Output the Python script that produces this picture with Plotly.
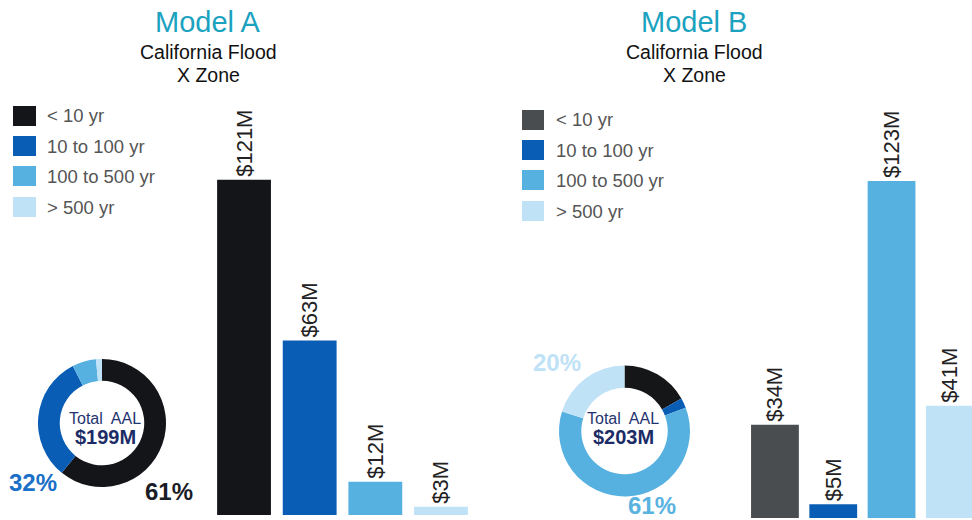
import plotly.graph_objects as go

W, H = 972, 520
FONT = "Arial, Liberation Sans, sans-serif"

# Return-period buckets shared by both models
categories = ["< 10 yr", "10 to 100 yr", "100 to 500 yr", "> 500 yr"]

# Average annual loss per bucket, $M
model_a_values = [121, 63, 12, 3]
model_b_values = [34, 5, 123, 41]

model_a_title = "Model A"
model_b_title = "Model B"
subtitle_lines = ["California Flood", "X Zone"]

colors_a = ["#141518", "#0a5db5", "#57b1e0", "#bfe2f6"]
colors_b_bars = ["#4a4d50", "#0a5db5", "#57b1e0", "#bfe2f6"]
colors_b_donut = ["#151618", "#0a5db5", "#57b1e0", "#bfe2f6"]

# percent label colours per model: (bucket index, colour)
pct_a = [(1, "#1a6fc8"), (0, "#1b1d26")]
pct_b = [(3, "#bfe2f6"), (2, "#5ab2df")]


def px_x(p):
    return p / W


def px_y(p):
    return (H - p) / H


fig = go.Figure()

# ---- bars ----
def add_bars(values, colors, xa, ya):
    fig.add_trace(go.Bar(
        x=list(range(len(values))), y=values,
        marker=dict(color=colors, line=dict(width=0)),
        text=[f"${v}M" for v in values],
        textposition="outside", textangle=-90,
        textfont=dict(family=FONT, size=22, color="#222222"),
        constraintext="none", cliponaxis=False,
        xaxis=xa, yaxis=ya, showlegend=False, hoverinfo="skip",
    ))


add_bars(model_a_values, colors_a, "x", "y")
add_bars(model_b_values, colors_b_bars, "x2", "y2")

# ---- donuts ----
def add_donut(values, colors, cx, cy, r):
    fig.add_trace(go.Pie(
        values=values, labels=categories,
        marker=dict(colors=colors, line=dict(width=0)),
        hole=0.66, sort=False, direction="clockwise", rotation=0,
        textinfo="none", showlegend=False, hoverinfo="skip",
        domain=dict(x=[px_x(cx - r), px_x(cx + r)],
                    y=[px_y(cy + r), px_y(cy - r)]),
    ))


add_donut(model_a_values, colors_a, 102, 423, 64)
add_donut(model_b_values, colors_b_donut, 624.5, 431, 65.5)

annotations = []
shapes = []


def text(x, y, s, size, color, bold=False):
    annotations.append(dict(
        x=px_x(x), y=px_y(y), xref="paper", yref="paper",
        text=f"<b>{s}</b>" if bold else s, showarrow=False,
        font=dict(family=FONT, size=size, color=color),
        xanchor="center", yanchor="middle",
    ))


# titles
text(207, 22, model_a_title, 29, "#1ba2bf")
text(694, 22, model_b_title, 29, "#1ba2bf")
for cx in (208, 694):
    text(cx, 52, subtitle_lines[0], 19.5, "#111111")
    text(cx, 75, subtitle_lines[1], 19.5, "#111111")

# donut centres
for vals, cx, cy in [(model_a_values, 105, 418), (model_b_values, 623, 418)]:
    text(cx, cy, "Total  AAL", 16, "#1f3470")
    text(cx, cy + 19, f"${sum(vals)}M", 20, "#1c2c66", bold=True)

# donut percent labels
for vals, items, spots in [
    (model_a_values, pct_a, [(33, 482), (169, 491)]),
    (model_b_values, pct_b, [(557, 362), (652, 505)]),
]:
    total = sum(vals)
    for (idx, col), (x, y) in zip(items, spots):
        text(x, y, f"{round(vals[idx] / total * 100)}%", 24, col, bold=True)

# legends
for sx0, sx1, tx, ys, cols in [
    (13, 36, 45, [116, 146, 176, 207], colors_a),
    (522, 544, 554, [120, 150, 180, 211], colors_b_bars),
]:
    for lab, y, col in zip(categories, ys, cols):
        shapes.append(dict(type="rect", xref="paper", yref="paper",
                           x0=px_x(sx0), x1=px_x(sx1),
                           y0=px_y(y + 10), y1=px_y(y - 10),
                           fillcolor=col, line=dict(width=0)))
        annotations.append(dict(
            x=px_x(tx), y=px_y(y), xref="paper", yref="paper", text=lab,
            showarrow=False, xanchor="left", yanchor="middle",
            font=dict(family=FONT, size=18.5, color="#555555"),
        ))

axis_off = dict(showgrid=False, zeroline=False, showticklabels=False,
                showline=False, ticks="", fixedrange=True)

fig.update_layout(
    width=W, height=H,
    margin=dict(l=0, r=0, t=0, b=0),
    paper_bgcolor="white", plot_bgcolor="white",
    bargap=0.18,
    xaxis=dict(domain=[px_x(211.2), px_x(473.8)], range=[-0.5, 3.5], **axis_off),
    yaxis=dict(domain=[px_y(515), 1], range=[0, 515 / 2.77], **axis_off),
    xaxis2=dict(domain=[px_x(745.8), 1], range=[-0.5, 3.38], anchor="y2", **axis_off),
    yaxis2=dict(domain=[px_y(518), 1], range=[0, 518 / 2.74], anchor="x2", **axis_off),
    annotations=annotations, shapes=shapes,
)

fig.write_html("out.html")
